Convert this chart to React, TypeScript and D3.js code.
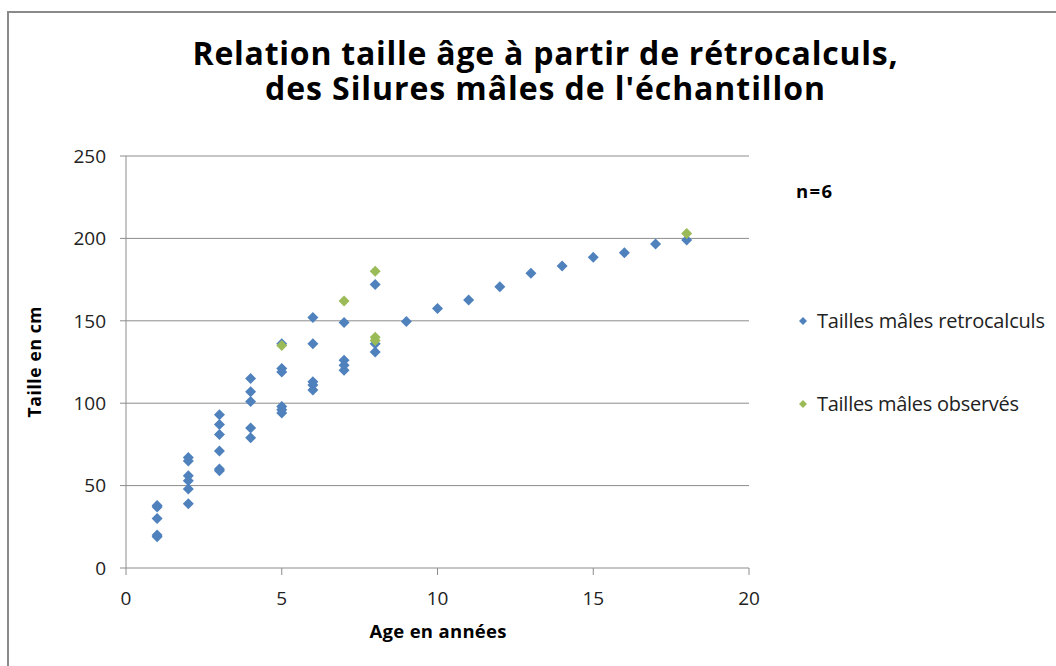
import React from "react";
import * as d3 from "d3";

// ages (years) and sizes (cm)
const retroAges = [
  1, 1, 1, 1, 1,
  2, 2, 2, 2, 2, 2,
  3, 3, 3, 3, 3, 3,
  4, 4, 4, 4, 4,
  5, 5, 5, 5, 5, 5,
  6, 6, 6, 6, 6,
  7, 7, 7, 7,
  8, 8, 8,
  9, 10, 11, 12, 13, 14, 15, 16, 17, 18,
];
const retroSizes = [
  38, 37, 30, 20, 19,
  67, 65, 56, 53, 48, 39,
  93, 87, 81, 71, 60, 59,
  115, 107, 101, 85, 79,
  136, 121, 119, 98, 96, 94,
  152, 136, 113, 111, 108,
  149, 126, 123, 120,
  172, 136, 131,
  149.5, 157.5, 162.6, 170.7, 178.8, 183.3, 188.5, 191.3, 196.6, 199,
];
const obsAges = [5, 7, 8, 8, 8, 18];
const obsSizes = [135, 162, 180, 140, 138, 203];

const xTicks = [0, 5, 10, 15, 20];
const yTicks = [0, 50, 100, 150, 200, 250];

const seriesNames = ["Tailles mâles retrocalculs", "Tailles mâles observés"];
const seriesColors = ["#4F81BD", "#9BBB59"];
const legendWidths = [228, 202];

const W = 1056;
const H = 666;
const FONT = "'Open Sans', Lato, sans-serif";

const Diamond = ({ cx, cy, r, fill }: { cx: number; cy: number; r: number; fill: string }) => (
  <path d={`M${cx},${cy - r}L${cx + r},${cy}L${cx},${cy + r}L${cx - r},${cy}Z`} fill={fill} />
);

export default function App() {
  const x = d3.scaleLinear().domain([0, 20]).range([126, 749]);
  const y = d3.scaleLinear().domain([0, 250]).range([568, 156]);
  const grid = "#8c8c8c";

  return (
    <svg width={W} height={H} style={{ position: "absolute", left: 0, top: 0, background: "#fff" }} fontFamily={FONT}>
      <rect x={8} y={12} width={W + 20} height={H + 20} fill="#fff" stroke="#8a8a8a" strokeWidth={2} />

      <text x={545} y={65} textAnchor="middle" fontSize={32} fontWeight="bold" fill="#000" textLength={705} lengthAdjust="spacing">
        Relation taille âge à partir de rétrocalculs,
      </text>
      <text x={545} y={100} textAnchor="middle" fontSize={32} fontWeight="bold" fill="#000" textLength={560} lengthAdjust="spacing">
        des Silures mâles de l'échantillon
      </text>

      {yTicks.map((t) => (
        <g key={"y" + t}>
          {t > 0 && <line x1={126} x2={749} y1={y(t)} y2={y(t)} stroke={grid} strokeWidth={1} />}
          <line x1={120} x2={126} y1={y(t)} y2={y(t)} stroke={grid} strokeWidth={1} />
          <text x={106} y={y(t)} dy="0.36em" textAnchor="end" fontSize={19} fill="#222">
            {t}
          </text>
        </g>
      ))}
      <line x1={126} x2={126} y1={156} y2={568} stroke={grid} strokeWidth={1} />
      <line x1={126} x2={749} y1={568} y2={568} stroke={grid} strokeWidth={1} />
      {xTicks.map((t) => (
        <g key={"x" + t}>
          <line x1={x(t)} x2={x(t)} y1={568} y2={575} stroke={grid} strokeWidth={1} />
          <text x={x(t)} y={605} textAnchor="middle" fontSize={19} fill="#222">
            {t}
          </text>
        </g>
      ))}

      <text x={438} y={638} textAnchor="middle" fontSize={18.5} fontWeight="bold" fill="#000" textLength={137} lengthAdjust="spacing">
        Age en années
      </text>
      <text transform="translate(41,362) rotate(-90)" textAnchor="middle" fontSize={17.5} fontWeight="bold" fill="#000" textLength={111} lengthAdjust="spacing">
        Taille en cm
      </text>

      {retroAges.map((a, i) => (
        <Diamond key={"r" + i} cx={x(a)} cy={y(retroSizes[i])} r={5.5} fill={seriesColors[0]} />
      ))}
      {obsAges.map((a, i) => (
        <Diamond key={"o" + i} cx={x(a)} cy={y(obsSizes[i])} r={5.5} fill={seriesColors[1]} />
      ))}

      <text x={796} y={198} fontSize={18.5} fontWeight="bold" fill="#000" textLength={36} lengthAdjust="spacing">
        n=6
      </text>

      {seriesNames.map((name, i) => (
        <g key={name} transform={`translate(803,${321 + i * 83})`}>
          <Diamond cx={0} cy={0} r={4} fill={seriesColors[i]} />
          <text x={14} y={0} dy="0.36em" fontSize={20} fill="#222" textLength={legendWidths[i]} lengthAdjust="spacing">
            {name}
          </text>
        </g>
      ))}
    </svg>
  );
}
